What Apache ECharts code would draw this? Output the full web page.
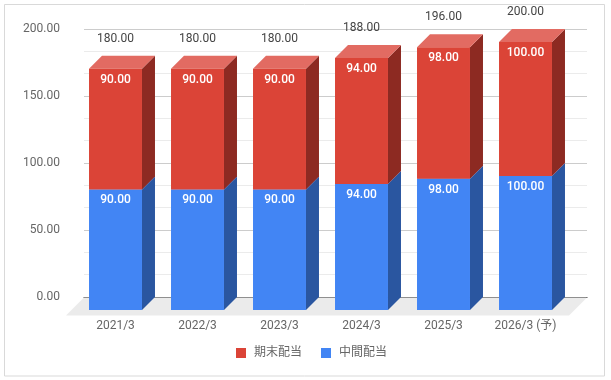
<!DOCTYPE html>
<html><head><meta charset="utf-8">
<script src="https://cdn.jsdelivr.net/npm/echarts@6/dist/echarts.min.js"></script>
<style>html,body{margin:0;padding:0;background:#fff}#c{width:611px;height:380px}</style>
</head><body><div id="c"></div>
<script>
const categories = ['2021/3', '2022/3', '2023/3', '2024/3', '2025/3', '2026/3 (予)'];
const interim = [90, 90, 90, 94, 98, 100];   // 中間配当
const yearEnd = [90, 90, 90, 94, 98, 100];   // 期末配当
const seriesNames = ['中間配当', '期末配当'];
const yMin = 0, yMax = 200, yInterval = 50;

const FONT = 'Roboto, "Noto Sans CJK JP", sans-serif';
const DEPTH = 13;

function makeRender(front, side, top, showTotal) {
  return function (params, api) {
    const i = api.value(0), s = api.value(1), e = api.value(2);
    const pb = api.coord([i, s]);
    const pt = api.coord([i, e]);
    const band = api.size([1, 0])[0];
    const w = band * 0.646;
    const d = DEPTH;
    const cx = pb[0];
    const x0 = cx - w / 2, x1 = cx + w / 2, yb = pb[1], yt = pt[1];
    const children = [
      { type: 'polygon', shape: { points: [[x1, yb], [x1 + d, yb - d], [x1 + d, yt - d], [x1, yt]] }, style: { fill: side } },
      { type: 'polygon', shape: { points: [[x0, yt], [x0 + d, yt - d], [x1 + d, yt - d], [x1, yt]] }, style: { fill: top } },
      { type: 'rect', shape: { x: x0, y: yt, width: w, height: yb - yt }, style: { fill: front } },
      { type: 'text', x: cx, y: yt + 11, style: { text: (e - s).toFixed(2), fill: '#fff', font: '500 12px ' + FONT, align: 'center', verticalAlign: 'middle' } }
    ];
    if (showTotal) {
      children.push({ type: 'text', x: cx, y: yt - d - 17, style: { text: e.toFixed(2), fill: '#444', font: '12px ' + FONT, align: 'center', verticalAlign: 'middle' } });
    }
    return { type: 'group', children: children };
  };
}

const blueData = categories.map((c, i) => [i, 0, interim[i]]);
const redData = categories.map((c, i) => [i, interim[i], interim[i] + yearEnd[i]]);

const chart = echarts.init(document.getElementById('c'), null, { renderer: 'canvas' });
chart.setOption({
  animation: false,
  backgroundColor: '#fff',
  textStyle: { fontFamily: FONT },
  graphic: [{ type: 'rect', shape: { x: 4.5, y: 4.5, width: 600, height: 371.5 }, style: { fill: 'none', stroke: '#d9d9d9', lineWidth: 1 }, z: 100 }],
  grid: [
    { left: 74.5, right: 44.5, top: 42, bottom: 70 },
    { left: 84, right: 24, top: 29, bottom: 83 }
  ],
  xAxis: [
    { type: 'category', gridIndex: 0, data: categories, axisLine: { show: false }, axisTick: { show: false },
      axisLabel: { color: '#666', fontSize: 12, margin: 10, fontFamily: FONT } },
    { type: 'category', gridIndex: 1, data: categories, axisLine: { show: true, lineStyle: { color: '#333', width: 1 } }, axisTick: { show: false }, axisLabel: { show: false } }
  ],
  yAxis: [
    { type: 'value', gridIndex: 0, min: yMin, max: yMax, interval: yInterval, show: false },
    { type: 'value', gridIndex: 1, min: yMin, max: yMax, interval: yInterval,
      axisLine: { show: false }, axisTick: { show: false },
      axisLabel: { color: '#666', fontSize: 12, margin: 24, formatter: v => v.toFixed(2), fontFamily: FONT },
      splitLine: { show: true, lineStyle: { color: '#ccc' } },
      minorTick: { show: false, splitNumber: 3 },
      minorSplitLine: { show: true, lineStyle: { color: '#ebebeb' } } }
  ],
  legend: {
    data: ['期末配当', '中間配当'], left: 231, top: 342, itemWidth: 10, itemHeight: 10, itemGap: 19, icon: 'rect',
    textStyle: { color: '#666', fontSize: 12, fontFamily: FONT, padding: [0, 0, 0, 3] }
  },
  series: [
    { type: 'custom', name: 'floor', xAxisIndex: 1, yAxisIndex: 1, data: [[0, 0]], z: 1, silent: true,
      renderItem: function (params, api) {
        const cs = params.coordSys;
        const y0 = cs.y + cs.height + 0.5, f = 18;
        return { type: 'polygon', shape: { points: [[cs.x, y0], [cs.x + cs.width, y0], [cs.x + cs.width - f, y0 + f], [cs.x - f, y0 + f]] }, style: { fill: '#ebebeb' } };
      } },
    { type: 'custom', name: seriesNames[0], xAxisIndex: 0, yAxisIndex: 0, data: blueData, z: 3,
      itemStyle: { color: '#4285F4' }, encode: { x: 0, y: [1, 2] },
      renderItem: makeRender('#4285F4', '#2A56A0', '#6E9FF6', false) },
    { type: 'custom', name: seriesNames[1], xAxisIndex: 0, yAxisIndex: 0, data: redData, z: 4,
      itemStyle: { color: '#DB4437' }, encode: { x: 0, y: [1, 2] },
      renderItem: makeRender('#DB4437', '#8D2A22', '#E26B62', true) }
  ]
});
</script></body></html>
